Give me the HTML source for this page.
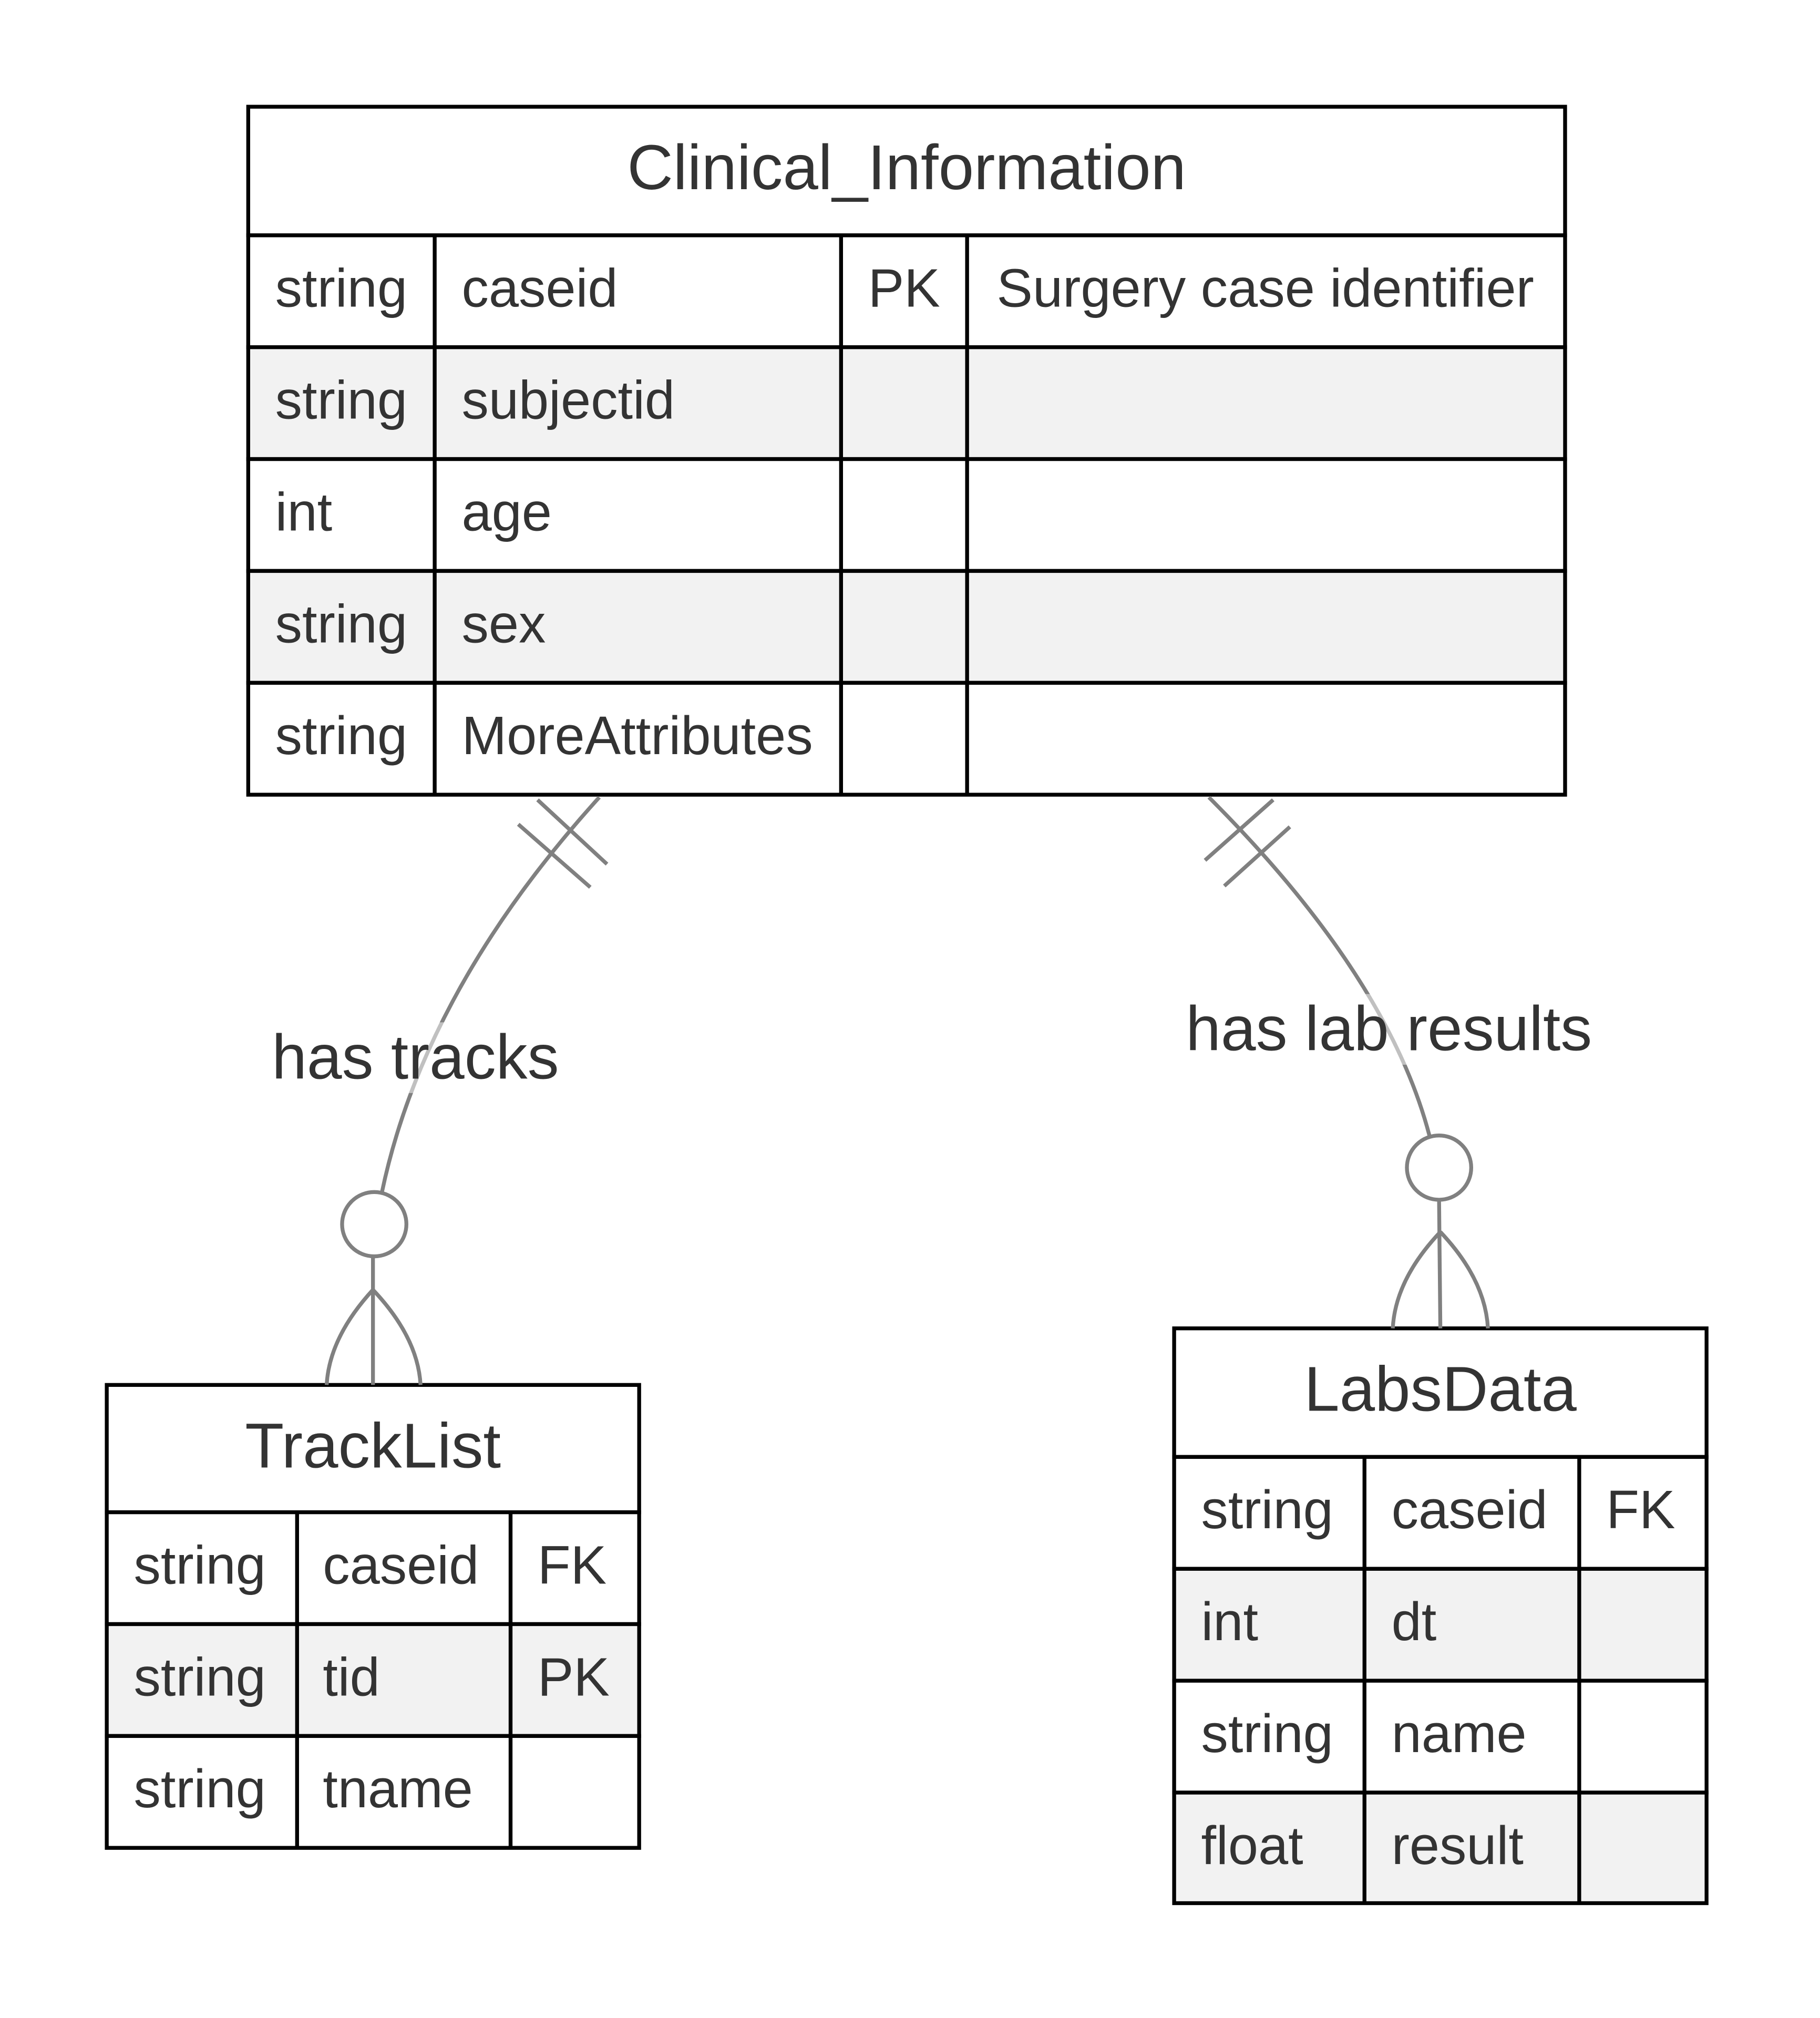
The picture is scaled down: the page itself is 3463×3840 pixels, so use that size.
<!DOCTYPE html>
<html><head><meta charset="utf-8"><style>html,body{margin:0;padding:0;background:#fff}svg{display:block}</style></head><body>
<svg width="3463" height="3840" viewBox="0 0 1415.2 1569.3" xmlns="http://www.w3.org/2000/svg" font-family="Liberation Sans, sans-serif" fill="#333">
<rect width="1415.2" height="1569.3" fill="#fff"/>
<!-- Clinical_Information -->
<g stroke="#000" stroke-width="3">
<rect x="193" y="83" width="1024" height="100" fill="#fff"/>
<rect x="193" y="183" width="1024" height="87" fill="#fff"/>
<rect x="193" y="270" width="1024" height="87" fill="#f2f2f2"/>
<rect x="193" y="357" width="1024" height="87" fill="#fff"/>
<rect x="193" y="444" width="1024" height="87" fill="#f2f2f2"/>
<rect x="193" y="531" width="1024" height="87" fill="#fff"/>
<line x1="338" y1="183" x2="338" y2="618"/><line x1="654" y1="183" x2="654" y2="618"/><line x1="752" y1="183" x2="752" y2="618"/>
</g>
<g font-size="42" dominant-baseline="central">
<text x="705" y="130" font-size="49.5" text-anchor="middle">Clinical_Information</text>
<text x="214" y="224">string</text><text x="359" y="224">caseid</text><text x="675" y="224">PK</text><text x="775" y="224">Surgery case identifier</text>
<text x="214" y="311">string</text><text x="359" y="311">subjectid</text>
<text x="214" y="398">int</text><text x="359" y="398">age</text>
<text x="214" y="485">string</text><text x="359" y="485">sex</text>
<text x="214" y="572">string</text><text x="359" y="572">MoreAttributes</text>
</g>
<!-- TrackList -->
<g stroke="#000" stroke-width="3">
<rect x="83" y="1077" width="414" height="99" fill="#fff"/>
<rect x="83" y="1176" width="414" height="87" fill="#fff"/>
<rect x="83" y="1263" width="414" height="87" fill="#f2f2f2"/>
<rect x="83" y="1350" width="414" height="87" fill="#fff"/>
<line x1="231" y1="1176" x2="231" y2="1437"/><line x1="397" y1="1176" x2="397" y2="1437"/>
</g>
<g font-size="42" dominant-baseline="central">
<text x="290" y="1124" font-size="49.5" text-anchor="middle">TrackList</text>
<text x="104" y="1217">string</text><text x="251" y="1217">caseid</text><text x="418" y="1217">FK</text>
<text x="104" y="1304">string</text><text x="251" y="1304">tid</text><text x="418" y="1304">PK</text>
<text x="104" y="1391">string</text><text x="251" y="1391">tname</text>
</g>
<!-- LabsData -->
<g stroke="#000" stroke-width="3">
<rect x="913" y="1033" width="414" height="100" fill="#fff"/>
<rect x="913" y="1133" width="414" height="87" fill="#fff"/>
<rect x="913" y="1220" width="414" height="87" fill="#f2f2f2"/>
<rect x="913" y="1307" width="414" height="87" fill="#fff"/>
<rect x="913" y="1394" width="414" height="86" fill="#f2f2f2"/>
<line x1="1061" y1="1133" x2="1061" y2="1480"/><line x1="1228" y1="1133" x2="1228" y2="1480"/>
</g>
<g font-size="42" dominant-baseline="central">
<text x="1120" y="1080" font-size="49.5" text-anchor="middle">LabsData</text>
<text x="934" y="1174">string</text><text x="1082" y="1174">caseid</text><text x="1249" y="1174">FK</text>
<text x="934" y="1261">int</text><text x="1082" y="1261">dt</text>
<text x="934" y="1348">string</text><text x="1082" y="1348">name</text>
<text x="934" y="1435">float</text><text x="1082" y="1435">result</text>
</g>
<!-- connectors -->
<g stroke="#808080" stroke-width="3" fill="none">
<path d="M466,620 Q330,770 297,927"/>
<line x1="403" y1="641" x2="459" y2="690"/><line x1="418" y1="622" x2="472" y2="672"/>
<circle cx="291" cy="952" r="25" fill="#fff"/>
<line x1="290" y1="977" x2="290" y2="1077"/>
<path d="M290,1003 Q256,1040 254,1077"/><path d="M290,1003 Q325,1040 327,1077"/>
<path d="M940,620 Q1080,760 1112,885"/>
<line x1="937" y1="669" x2="990" y2="622"/><line x1="952" y1="689" x2="1003" y2="643"/>
<circle cx="1119" cy="908" r="25" fill="#fff"/>
<line x1="1119" y1="933" x2="1120" y2="1033"/>
<path d="M1120,958 Q1085,995 1083,1033"/><path d="M1120,958 Q1155,995 1157,1033"/>
</g>
<rect x="211" y="795" width="225" height="55" fill="#fff" opacity="0.5"/>
<rect x="920" y="773" width="320" height="55" fill="#fff" opacity="0.5"/>
<g font-size="49" dominant-baseline="central" text-anchor="middle">
<text x="323" y="822">has tracks</text>
<text x="1080" y="800">has lab results</text>
</g>
</svg>
</body></html>
